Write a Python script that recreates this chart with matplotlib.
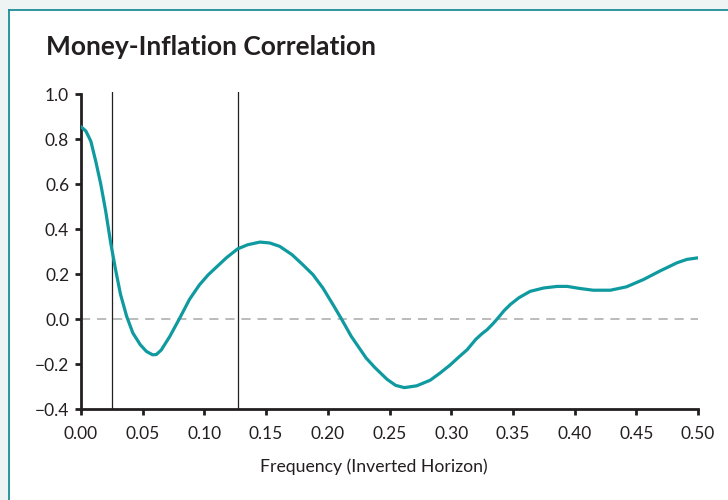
import matplotlib
matplotlib.use("Agg")
import matplotlib.pyplot as plt
from matplotlib.patches import Rectangle
from matplotlib.lines import Line2D

plt.rcParams['font.family'] = ['Lato', 'DejaVu Sans']

title = "Money-Inflation Correlation"
xlabel = "Frequency (Inverted Horizon)"

frequency = [0.000, 0.004, 0.008, 0.012, 0.016, 0.020, 0.024, 0.028, 0.032, 0.037,
             0.042, 0.048, 0.053, 0.058, 0.061, 0.065, 0.072, 0.080, 0.088, 0.096,
             0.103, 0.110, 0.118, 0.127, 0.135, 0.145, 0.153, 0.161, 0.171, 0.180,
             0.188, 0.196, 0.204, 0.211, 0.219, 0.231, 0.238, 0.248, 0.255, 0.262,
             0.272, 0.283, 0.291, 0.299, 0.306, 0.313, 0.320, 0.325, 0.329, 0.334,
             0.338, 0.343, 0.348, 0.355, 0.364, 0.375, 0.386, 0.394, 0.404, 0.415,
             0.429, 0.442, 0.456, 0.469, 0.483, 0.491, 0.500]
correlation = [0.855, 0.835, 0.790, 0.700, 0.600, 0.480, 0.340, 0.220, 0.110, 0.012,
               -0.062, -0.114, -0.144, -0.159, -0.158, -0.138, -0.077, 0.004, 0.088, 0.152,
               0.196, 0.232, 0.273, 0.312, 0.330, 0.342, 0.338, 0.323, 0.286, 0.240,
               0.197, 0.138, 0.066, 0.001, -0.077, -0.173, -0.215, -0.268, -0.295, -0.305,
               -0.297, -0.272, -0.240, -0.205, -0.170, -0.136, -0.090, -0.065, -0.048, -0.020,
               0.005, 0.038, 0.065, 0.095, 0.123, 0.138, 0.145, 0.145, 0.136, 0.128,
               0.128, 0.143, 0.176, 0.213, 0.250, 0.265, 0.272]
band_edges = [0.025, 0.127]
xticks = [0.00, 0.05, 0.10, 0.15, 0.20, 0.25, 0.30, 0.35, 0.40, 0.45, 0.50]
xticklabels = ["0.00", "0.05", "0.10", "0.15", "0.20", "0.25", "0.30", "0.35", "0.40", "0.45", "0.50"]
yticks = [-0.4, -0.2, 0.0, 0.2, 0.4, 0.6, 0.8, 1.0]
yticklabels = ["\u22120.4", "\u22120.2", "0.0", "0.2", "0.4", "0.6", "0.8", "1.0"]

W, H = 728, 500
fig = plt.figure(figsize=(W / 100, H / 100), dpi=100)
fig.patch.set_facecolor('#eef3f3')

# white panel with teal top/left border
fig.patches.append(Rectangle((9 / W, 0), 1 - 9 / W, 1 - 10 / H, transform=fig.transFigure,
                             facecolor='white', edgecolor='none', zorder=-5))
fig.lines.append(Line2D([9 / W, 9 / W], [0, 1 - 10 / H], transform=fig.transFigure,
                        color='#1d8c94', lw=1.3, zorder=-4))
fig.lines.append(Line2D([9 / W, 1], [1 - 10 / H, 1 - 10 / H], transform=fig.transFigure,
                        color='#1d8c94', lw=1.3, zorder=-4))

ax = fig.add_axes([81 / W, 1 - 409 / H, (698 - 81) / W, (409 - 91.8) / H])
ax.set_facecolor('none')

ax.axhline(0, color='#a8a8a8', lw=1.1, dashes=(6, 4.5), zorder=1)
for b in band_edges:
    ax.axvline(b, color='#231f20', lw=0.9, zorder=2)
ax.plot(frequency, correlation, color='#0f9aa0', lw=2.3, solid_capstyle='round',
        solid_joinstyle='round', zorder=3)

ax.set_xlim(0, 0.5)
ax.set_ylim(-0.4, 1.01)
ax.set_xticks(xticks, xticklabels)
ax.set_yticks(yticks, yticklabels)

for s in ['top', 'right']:
    ax.spines[s].set_visible(False)
for s in ['left', 'bottom']:
    ax.spines[s].set_linewidth(2.0)
    ax.spines[s].set_color('#231f20')
ax.spines['left'].set_bounds(-0.4, 1.0)

ax.tick_params(axis='both', direction='out', length=4.5, width=2.0, color='#231f20',
               labelsize=12.5, labelcolor='#231f20')
ax.tick_params(axis='x', pad=7.5)
ax.tick_params(axis='y', pad=4)

fig.text(46 / W, 1 - 55 / H, title, ha='left', va='baseline', fontsize=19,
         fontweight='bold', color='#231f20')
fig.text(374 / W, 1 - 467 / H, xlabel, ha='center', va='center', fontsize=12.7,
         color='#231f20')

fig.savefig('out.png', dpi=100, facecolor=fig.get_facecolor())
